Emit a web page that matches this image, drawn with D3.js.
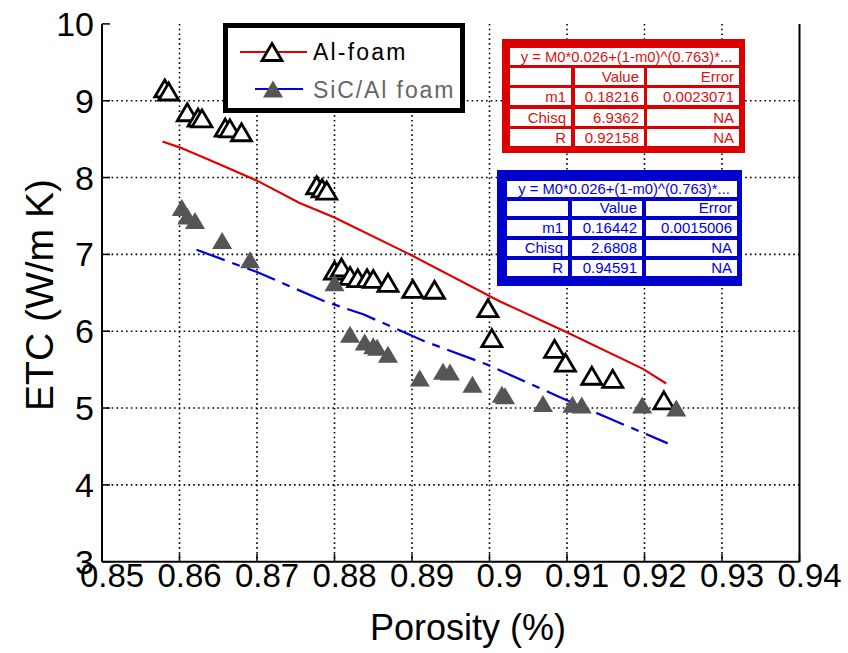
<!DOCTYPE html>
<html>
<head>
<meta charset="utf-8">
<script src="https://cdn.jsdelivr.net/npm/d3@7"></script>
<style>
  html, body { margin: 0; padding: 0; background: #fff; }
  svg { display: block; font-family: "Liberation Sans", Arial, sans-serif; }
</style>
</head>
<body>
<svg id="chart" width="848" height="653"></svg>
<script>
// ---------------- data ----------------
const xTicks = [0.85, 0.86, 0.87, 0.88, 0.89, 0.9, 0.91, 0.92, 0.93, 0.94];
const xTickLabels = ["0.85", "0.86", "0.87", "0.88", "0.89", "0.9", "0.91", "0.92", "0.93", "0.94"];
const yTicks = [3, 4, 5, 6, 7, 8, 9, 10];
const yTickLabels = ["3", "4", "5", "6", "7", "8", "9", "10"];

const alX = [0.8581, 0.8586, 0.8610, 0.8624, 0.8629, 0.8659, 0.8665, 0.8680, 0.8777, 0.8784, 0.8790,
             0.8800, 0.8809, 0.8820, 0.8830, 0.8842, 0.8850, 0.8869, 0.8901, 0.8929, 0.8998, 0.9003,
             0.9084, 0.9098, 0.9132, 0.9159, 0.9225];
const alY = [9.16, 9.12, 8.85, 8.78, 8.77, 8.65, 8.64, 8.59, 7.90, 7.86, 7.83,
             6.79, 6.83, 6.72, 6.69, 6.69, 6.68, 6.63, 6.55, 6.54, 6.30, 5.91,
             5.77, 5.59, 5.42, 5.38, 5.10];

const sicX = [0.8603, 0.8610, 0.8620, 0.8655, 0.8691, 0.8800, 0.8820, 0.8839, 0.8850, 0.8855, 0.8869,
              0.8910, 0.8940, 0.8949, 0.8978, 0.9016, 0.9020, 0.9069, 0.9107, 0.9119, 0.9197, 0.9241];
const sicY = [7.61, 7.50, 7.44, 7.18, 6.93, 6.63, 5.96, 5.86, 5.81, 5.79, 5.70,
              5.39, 5.48, 5.47, 5.31, 5.18, 5.16, 5.06, 5.05, 5.04, 5.04, 5.00];

const alFitX = [0.8578, 0.8601, 0.8650, 0.8700, 0.8755, 0.8800, 0.8897, 0.9013, 0.9097, 0.9198, 0.9228];
const alFitY = [8.47, 8.39, 8.18, 7.96, 7.67, 7.48, 7.00, 6.39, 6.00, 5.51, 5.32];

const sicFitX = [0.8622, 0.8700, 0.8787, 0.8837, 0.8916, 0.8996, 0.9091, 0.9151, 0.9230];
const sicFitY = [7.06, 6.77, 6.39, 6.22, 5.87, 5.57, 5.14, 4.88, 4.54];

const seriesNames = ["Al-foam", "SiC/Al foam"];

const fitTitle = "y = M0*0.026+(1-m0)^(0.763)*...";
const tableHeader = ["", "Value", "Error"];
const tableRowNames = ["m1", "Chisq", "R"];
const alTableValues = ["0.18216", "6.9362", "0.92158"];
const alTableErrors = ["0.0023071", "NA", "NA"];
const sicTableValues = ["0.16442", "2.6808", "0.94591"];
const sicTableErrors = ["0.0015006", "NA", "NA"];

// ---------------- layout ----------------
const svg = d3.select("#chart");
const plot = { left: 102, right: 799.5, top: 23.9, bottom: 561.7 };
const x = d3.scaleLinear().domain([0.85, 0.94]).range([plot.left, plot.right]);
const y = d3.scaleLinear().domain([3, 10]).range([plot.bottom, plot.top]);
const FONT = '"Liberation Sans", Arial, sans-serif';

// grid (dotted)
const grid = svg.append("g");
grid.selectAll("line.gx").data(xTicks.slice(1, -1)).join("line")
  .attr("x1", d => x(d)).attr("x2", d => x(d))
  .attr("y1", plot.top).attr("y2", plot.bottom)
  .attr("stroke", "#000").attr("stroke-width", 1.6).attr("stroke-dasharray", "1.6,3.2");
grid.selectAll("line.gy").data(yTicks.slice(1, -1)).join("line")
  .attr("y1", d => y(d)).attr("y2", d => y(d))
  .attr("x1", plot.left).attr("x2", plot.right)
  .attr("stroke", "#000").attr("stroke-width", 1.6).attr("stroke-dasharray", "1.6,3.2");

// fit lines
const line = d3.line().x(d => x(d[0])).y(d => y(d[1]));
svg.append("path").datum(alFitX.map((v, i) => [v, alFitY[i]]))
  .attr("d", line).attr("fill", "none").attr("stroke", "#e00000").attr("stroke-width", 2.2);
svg.append("path").datum(sicFitX.map((v, i) => [v, sicFitY[i]]))
  .attr("d", line).attr("fill", "none").attr("stroke", "#0000dd").attr("stroke-width", 2.2)
  .attr("stroke-dasharray", "30,8,8,8");

// markers
const tri = "M0,-8.5L10,8.5L-10,8.5Z";
svg.append("g").selectAll("path").data(alX.map((v, i) => [v, alY[i]])).join("path")
  .attr("d", tri).attr("transform", d => `translate(${x(d[0])},${y(d[1])})`)
  .attr("fill", "#fff").attr("stroke", "#000").attr("stroke-width", 2.8).attr("stroke-linejoin", "miter");
svg.append("g").selectAll("path").data(sicX.map((v, i) => [v, sicY[i]])).join("path")
  .attr("d", tri).attr("transform", d => `translate(${x(d[0])},${y(d[1])})`)
  .attr("fill", "#555").attr("stroke", "none");

// axes
const axes = svg.append("g");
axes.append("line").attr("x1", plot.left).attr("x2", plot.right)
  .attr("y1", plot.bottom).attr("y2", plot.bottom).attr("stroke", "#000").attr("stroke-width", 2);
axes.append("line").attr("x1", plot.left).attr("x2", plot.left)
  .attr("y1", plot.top).attr("y2", plot.bottom).attr("stroke", "#000").attr("stroke-width", 2);
axes.append("line").attr("x1", plot.right).attr("x2", plot.right)
  .attr("y1", plot.top).attr("y2", plot.bottom).attr("stroke", "#000").attr("stroke-width", 2);
axes.selectAll("line.tx").data(xTicks).join("line")
  .attr("x1", d => x(d)).attr("x2", d => x(d))
  .attr("y1", plot.bottom).attr("y2", plot.bottom - 8).attr("stroke", "#000").attr("stroke-width", 1.5);
axes.selectAll("line.ty").data(yTicks).join("line")
  .attr("y1", d => y(d)).attr("y2", d => y(d))
  .attr("x1", plot.left).attr("x2", plot.left + 8).attr("stroke", "#000").attr("stroke-width", 1.5);
axes.selectAll("text.xl").data(xTicks).join("text")
  .attr("x", d => x(d) + 10).attr("y", 587)
  .attr("text-anchor", "middle").attr("font-size", 33).attr("font-family", FONT)
  .text((d, i) => xTickLabels[i]);
axes.selectAll("text.yl").data(yTicks).join("text")
  .attr("x", 94).attr("y", d => y(d) + 12)
  .attr("text-anchor", "end").attr("font-size", 34).attr("font-family", FONT)
  .text((d, i) => yTickLabels[i]);

svg.append("text").attr("x", 468).attr("y", 640).attr("text-anchor", "middle")
  .attr("font-size", 36).attr("font-family", FONT).text("Porosity (%)");
svg.append("text").attr("transform", "translate(53,295) rotate(-90)").attr("text-anchor", "middle")
  .attr("font-size", 39).attr("font-family", FONT).text("ETC (W/m K)");

// legend
const lg = svg.append("g");
lg.append("rect").attr("x", 225.5).attr("y", 25.5).attr("width", 237).attr("height", 85)
  .attr("fill", "#fff").attr("stroke", "#000").attr("stroke-width", 5);
lg.append("line").attr("x1", 240).attr("x2", 307).attr("y1", 52).attr("y2", 52)
  .attr("stroke", "#e00000").attr("stroke-width", 2);
lg.append("path").attr("d", tri).attr("transform", "translate(272,52)")
  .attr("fill", "#fff").attr("stroke", "#000").attr("stroke-width", 2.8);
lg.append("text").attr("x", 313).attr("y", 60).attr("font-size", 23).attr("font-family", FONT)
  .attr("letter-spacing", 2.2).attr("fill", "#000").text(seriesNames[0]);
lg.append("line").attr("x1", 255).attr("x2", 303).attr("y1", 89).attr("y2", 89)
  .attr("stroke", "#0000dd").attr("stroke-width", 2);
lg.append("path").attr("d", tri).attr("transform", "translate(273,89)").attr("fill", "#555");
lg.append("text").attr("x", 313).attr("y", 98).attr("font-size", 23).attr("font-family", FONT)
  .attr("letter-spacing", 1.9).attr("fill", "#666").text(seriesNames[1]);

// fit tables
function drawTable(cfg, values, errors) {
  const g = svg.append("g");
  g.append("rect").attr("x", cfg.outer[0]).attr("y", cfg.outer[1])
    .attr("width", cfg.outer[2]).attr("height", cfg.outer[3]).attr("fill", cfg.border);
  g.append("rect").attr("x", cfg.cols[0][0]).attr("y", cfg.title[0])
    .attr("width", cfg.cols[2][1] - cfg.cols[0][0]).attr("height", cfg.title[1] - cfg.title[0]).attr("fill", "#fff");
  g.append("text").attr("x", (cfg.cols[0][0] + cfg.cols[2][1]) / 2 + 2).attr("y", cfg.title[1] - 3.5)
    .attr("text-anchor", "middle").attr("font-size", 14.8).attr("font-family", FONT)
    .attr("fill", cfg.text).text(fitTitle);
  const rows = [tableHeader].concat(tableRowNames.map((n, i) => [n, values[i], errors[i]]));
  rows.forEach((r, ri) => {
    const [y0, y1] = cfg.rows[ri];
    r.forEach((cell, ci) => {
      const [x0, x1] = cfg.cols[ci];
      g.append("rect").attr("x", x0).attr("y", y0).attr("width", x1 - x0).attr("height", y1 - y0).attr("fill", "#fff");
      g.append("text").attr("x", x1 - 5).attr("y", y1 - 3).attr("text-anchor", "end")
        .attr("font-size", 15).attr("font-family", FONT).attr("fill", cfg.text).text(cell);
    });
  });
}
drawTable({
  outer: [502, 39, 243, 114], border: "#dd0000", text: "#e01010",
  title: [48, 65],
  cols: [[510, 571], [575, 644], [647, 739]],
  rows: [[68, 85], [88, 105], [109, 126], [129, 146]]
}, alTableValues, alTableErrors);
drawTable({
  outer: [497, 170, 245, 116], border: "#0000cc", text: "#0000ee",
  title: [181, 197],
  cols: [[507, 568], [572, 642], [646, 737]],
  rows: [[201, 216], [220, 236], [240, 256], [260, 276]]
}, sicTableValues, sicTableErrors);
</script>
</body>
</html>
